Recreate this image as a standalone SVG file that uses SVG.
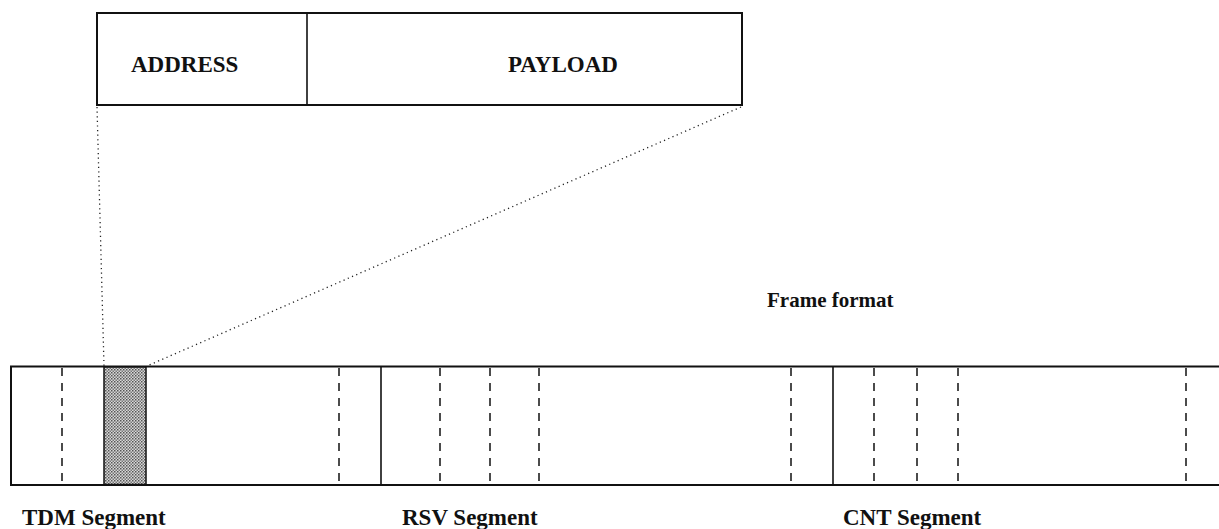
<svg xmlns="http://www.w3.org/2000/svg" width="1219" height="529" viewBox="0 0 1219 529">
<style>
.t{font-family:"Liberation Serif","Times New Roman",serif;font-weight:bold;fill:#111}
.box{fill:#fff;stroke:#111;stroke-width:2}
.solid{stroke:#111;stroke-width:1.6}
.dash{stroke:#111;stroke-width:1.5;stroke-dasharray:8 7}
.dot{stroke:#222;stroke-width:1.3;stroke-dasharray:1.2 3.4;fill:none}
</style>
<defs>
<pattern id="dither" width="3" height="3" patternUnits="userSpaceOnUse">
<rect width="3" height="3" fill="#d8d8d8"/>
<rect x="0" y="0" width="1.5" height="1.5" fill="#555"/>
<rect x="1.5" y="1.5" width="1.5" height="1.5" fill="#777"/>
</pattern>
</defs>
<rect width="1219" height="529" fill="#fff"/>

<g id="packet">
<rect class="box" x="97" y="13" width="645" height="92"/>
<line class="solid" x1="307" y1="13" x2="307" y2="105"/>
<text class="t" x="131" y="72" font-size="23">ADDRESS</text>
<text class="t" x="508" y="72" font-size="23">PAYLOAD</text>
</g>

<g id="connectors">
<line class="dot" x1="97" y1="107" x2="104" y2="366"/>
<line class="dot" x1="741" y1="107" x2="147" y2="366"/>
</g>

<g id="frame">
<path d="M1219 366.5 H11 V485 H1219" fill="#fff" stroke="#111" stroke-width="2"/>
<rect x="104" y="367" width="42" height="117.5" fill="url(#dither)" stroke="#111" stroke-width="1.5"/>
<line class="solid" x1="381" y1="366" x2="381" y2="485"/>
<line class="solid" x1="833" y1="366" x2="833" y2="485"/>
<g id="tdm-slots">
<line class="dash" x1="62" y1="368" x2="62" y2="482"/>
<line class="dash" x1="339" y1="368" x2="339" y2="482"/>
</g>
<g id="rsv-slots">
<line class="dash" x1="440" y1="368" x2="440" y2="482"/>
<line class="dash" x1="490" y1="368" x2="490" y2="482"/>
<line class="dash" x1="539" y1="368" x2="539" y2="482"/>
<line class="dash" x1="791" y1="368" x2="791" y2="482"/>
</g>
<g id="cnt-slots">
<line class="dash" x1="874" y1="368" x2="874" y2="482"/>
<line class="dash" x1="917" y1="368" x2="917" y2="482"/>
<line class="dash" x1="958" y1="368" x2="958" y2="482"/>
<line class="dash" x1="1186" y1="368" x2="1186" y2="482"/>
</g>
</g>

<g id="labels">
<text class="t" x="767" y="307" font-size="21">Frame format</text>
<text class="t" x="22" y="525" font-size="23">TDM Segment</text>
<text class="t" x="402" y="525" font-size="23">RSV Segment</text>
<text class="t" x="843" y="525" font-size="23">CNT Segment</text>
</g>
</svg>
